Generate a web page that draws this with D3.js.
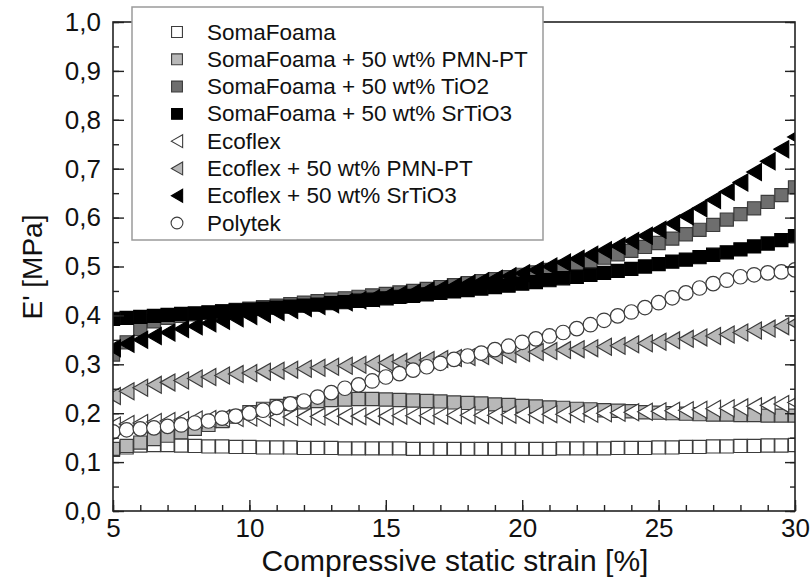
<!DOCTYPE html>
<html>
<head>
<meta charset="utf-8">
<script src="https://cdn.jsdelivr.net/npm/d3@7"></script>
<style>
  html, body { margin: 0; padding: 0; background: #fff; }
  svg { display: block; }
  text { font-family: "Liberation Sans", Arial, Helvetica, sans-serif; fill: #111; }
</style>
</head>
<body>
<svg id="chart" width="812" height="577"></svg>
<script>
// ---------------- data ----------------
const strain = [5,5.5,6,6.5,7,7.5,8,8.5,9,9.5,10,10.5,11,11.5,12,12.5,13,13.5,14,14.5,15,15.5,16,16.5,17,17.5,18,18.5,19,19.5,20,20.5,21,21.5,22,22.5,23,23.5,24,24.5,25,25.5,26,26.5,27,27.5,28,28.5,29,29.5,30];

const somaFoama = [0.125,0.130,0.134,0.135,0.135,0.134,0.133,0.132,0.132,0.131,
  0.131,0.130,0.130,0.130,0.129,0.129,0.129,0.128,0.128,0.128,
  0.128,0.128,0.127,0.127,0.127,0.127,0.127,0.127,0.127,0.127,
  0.127,0.127,0.127,0.128,0.128,0.128,0.128,0.129,0.129,0.129,
  0.130,0.130,0.131,0.131,0.132,0.132,0.133,0.133,0.134,0.134,0.135];

const somaPMN = [0.127,0.133,0.140,0.147,0.154,0.161,0.168,0.176,0.184,0.193,
  0.202,0.209,0.215,0.219,0.222,0.225,0.227,0.228,0.229,0.229,
  0.228,0.227,0.226,0.225,0.224,0.222,0.221,0.220,0.218,0.217,
  0.215,0.214,0.212,0.211,0.209,0.208,0.206,0.205,0.204,0.202,
  0.201,0.200,0.199,0.198,0.197,0.197,0.196,0.196,0.195,0.195,0.195];

const somaTiO2 = [0.320,0.345,0.372,0.388,0.395,0.399,0.402,0.405,0.408,0.411,
  0.414,0.417,0.420,0.423,0.426,0.429,0.432,0.435,0.438,0.441,
  0.444,0.447,0.450,0.454,0.458,0.462,0.466,0.470,0.474,0.478,
  0.483,0.488,0.493,0.499,0.505,0.511,0.518,0.525,0.532,0.540,
  0.548,0.557,0.566,0.575,0.585,0.596,0.607,0.619,0.632,0.646,0.662];

const somaSrTiO3 = [0.393,0.395,0.397,0.399,0.401,0.403,0.404,0.406,0.408,0.410,
  0.412,0.414,0.416,0.418,0.420,0.422,0.425,0.427,0.430,0.432,
  0.435,0.438,0.440,0.443,0.446,0.449,0.452,0.455,0.458,0.461,
  0.465,0.468,0.472,0.476,0.479,0.483,0.487,0.491,0.495,0.500,
  0.505,0.510,0.514,0.519,0.524,0.529,0.535,0.541,0.547,0.554,0.562];

const ecoflex = [0.175,0.178,0.180,0.182,0.184,0.186,0.187,0.188,0.189,0.190,
  0.191,0.191,0.192,0.192,0.193,0.193,0.193,0.194,0.194,0.194,
  0.194,0.195,0.195,0.195,0.195,0.196,0.196,0.196,0.196,0.197,
  0.197,0.197,0.198,0.198,0.199,0.199,0.200,0.201,0.202,0.203,
  0.204,0.205,0.206,0.207,0.209,0.210,0.212,0.214,0.216,0.219,0.222];

const ecoPMN = [0.235,0.245,0.252,0.258,0.263,0.267,0.271,0.274,0.277,0.280,
  0.282,0.285,0.287,0.289,0.291,0.293,0.295,0.297,0.299,0.301,
  0.303,0.305,0.307,0.309,0.311,0.313,0.315,0.317,0.319,0.321,
  0.323,0.325,0.327,0.329,0.331,0.333,0.336,0.338,0.341,0.343,
  0.346,0.349,0.352,0.355,0.358,0.361,0.365,0.369,0.373,0.378,0.384];

const ecoSrTiO3 = [0.333,0.342,0.350,0.358,0.365,0.372,0.378,0.384,0.389,0.394,
  0.399,0.403,0.407,0.411,0.415,0.419,0.423,0.427,0.431,0.435,
  0.439,0.443,0.447,0.451,0.455,0.460,0.465,0.470,0.475,0.480,
  0.486,0.493,0.500,0.508,0.516,0.524,0.533,0.542,0.552,0.563,
  0.575,0.588,0.603,0.619,0.636,0.653,0.672,0.693,0.715,0.740,0.765];

const polytek = [0.162,0.166,0.168,0.170,0.173,0.176,0.180,0.184,0.190,0.194,
  0.200,0.206,0.212,0.219,0.225,0.233,0.242,0.251,0.258,0.266,
  0.274,0.281,0.288,0.295,0.302,0.310,0.317,0.323,0.330,0.337,
  0.345,0.352,0.358,0.365,0.373,0.381,0.390,0.399,0.407,0.416,
  0.426,0.436,0.446,0.456,0.465,0.472,0.479,0.483,0.487,0.489,0.493];

const seriesNames = [
  "SomaFoama",
  "SomaFoama + 50 wt% PMN-PT",
  "SomaFoama + 50 wt% TiO2",
  "SomaFoama + 50 wt% SrTiO3",
  "Ecoflex",
  "Ecoflex + 50 wt% PMN-PT",
  "Ecoflex + 50 wt% SrTiO3",
  "Polytek"
];
const seriesValues = [somaFoama, somaPMN, somaTiO2, somaSrTiO3, ecoflex, ecoPMN, ecoSrTiO3, polytek];
const seriesShapes = ["square","square","square","square","triangle","triangle","triangle","circle"];
const seriesFills  = ["#ffffff","#b8b8b8","#6e6e6e","#000000","#ffffff","#b8b8b8","#000000","#ffffff"];

const xTicks = [5,10,15,20,25,30];
const yTicks = [0,0.1,0.2,0.3,0.4,0.5,0.6,0.7,0.8,0.9,1.0];
const xTitle = "Compressive static strain [%]";
const yTitle = "E' [MPa]";

// ---------------- layout ----------------
const L = 113, R = 795, T = 22, B = 511;
const svg = d3.select("#chart");
const x = d3.scaleLinear().domain([5,30]).range([L,R]);
const y = d3.scaleLinear().domain([0,1]).range([B,T]);

const triangleLeft = {
  draw(ctx, size) {
    const s = Math.sqrt(size);
    const w = s * 0.92, h = s * 1.06;
    ctx.moveTo(-w/2, 0);
    ctx.lineTo(w/2, -h/2);
    ctx.lineTo(w/2, h/2);
    ctx.closePath();
  }
};
function symbolFor(shape, big) {
  if (shape === "square") return d3.symbol().type(d3.symbolSquare).size(big ? 172 : 118)();
  if (shape === "circle") return d3.symbol().type(d3.symbolCircle).size(big ? 165 : 110)();
  return d3.symbol().type(triangleLeft).size(big ? 255 : 150)();
}
function strokeFor(fill) { return fill === "#000000" ? "#000" : "#3c3c3c"; }

const defs = svg.append("defs");
defs.append("clipPath").attr("id","plotclip")
  .append("rect").attr("x",L).attr("y",T).attr("width",R-L).attr("height",B-T);

// ---------------- marks ----------------
const plot = svg.append("g").attr("clip-path","url(#plotclip)");
seriesValues.forEach((vals, i) => {
  const pts = strain.map((s, j) => ({s, v: vals[j]}));
  plot.append("g").selectAll("path").data(pts).join("path")
    .attr("d", symbolFor(seriesShapes[i], true))
    .attr("transform", d => `translate(${x(d.s)},${y(d.v)})`)
    .attr("fill", seriesFills[i])
    .attr("stroke", strokeFor(seriesFills[i]))
    .attr("stroke-width", 1.2);
});

// ---------------- axes ----------------
const fmt = d => d3.format(".1f")(d).replace(".", ",");
const axisStyle = g => { g.select(".domain").remove(); g.selectAll("line").attr("stroke","#222").attr("stroke-width",1.4); };

const xMinor = d3.range(5, 30.001, 1);
const yMinor = d3.range(0, 1.0001, 0.05).map(v => +v.toFixed(2));

svg.append("g").attr("transform",`translate(0,${B})`)
  .call(d3.axisBottom(x).tickValues(xMinor).tickFormat("").tickSize(-6))
  .call(axisStyle);
svg.append("g").attr("transform",`translate(0,${B})`)
  .call(d3.axisBottom(x).tickValues(xTicks).tickFormat(d3.format("d")).tickSize(-11).tickPadding(8))
  .call(axisStyle)
  .selectAll("text").attr("font-size", 26).attr("fill","#111");

svg.append("g").attr("transform",`translate(${L},0)`)
  .call(d3.axisLeft(y).tickValues(yMinor).tickFormat("").tickSize(-6))
  .call(axisStyle);
svg.append("g").attr("transform",`translate(${L},0)`)
  .call(d3.axisLeft(y).tickValues(yTicks).tickFormat(fmt).tickSize(-11).tickPadding(12))
  .call(axisStyle)
  .selectAll("text").attr("font-size", 26).attr("fill","#111");

svg.append("g").attr("transform",`translate(${R},0)`)
  .call(d3.axisRight(y).tickValues(yMinor).tickFormat("").tickSize(-5))
  .call(axisStyle);
svg.append("g").attr("transform",`translate(${R},0)`)
  .call(d3.axisRight(y).tickValues(yTicks).tickFormat("").tickSize(-10))
  .call(axisStyle);

svg.append("rect").attr("x",L).attr("y",T).attr("width",R-L).attr("height",B-T)
  .attr("fill","none").attr("stroke","#222").attr("stroke-width",1.6);

// titles
svg.append("text").attr("x",(L+R)/2 + 1).attr("y",571).attr("text-anchor","middle")
  .attr("font-size",30).text(xTitle);
svg.append("text").attr("transform",`translate(42,267) rotate(-90)`).attr("text-anchor","middle")
  .attr("font-size",28).text(yTitle);

// ---------------- legend ----------------
const lg = svg.append("g");
lg.append("rect").attr("x",132).attr("y",7).attr("width",411).attr("height",233)
  .attr("fill","#fff").attr("stroke","#9a9a9a").attr("stroke-width",1.5);
const rowY = d3.scalePoint().domain(seriesNames).range([32,223]);
seriesNames.forEach((name, i) => {
  const cy = rowY(name);
  lg.append("path").attr("d", symbolFor(seriesShapes[i], false))
    .attr("transform",`translate(177,${cy})`)
    .attr("fill", seriesFills[i]).attr("stroke", strokeFor(seriesFills[i])).attr("stroke-width",1.1);
  lg.append("text").attr("x",207).attr("y",cy + 7.5).attr("font-size",22.5).text(name);
});
</script>
</body>
</html>
